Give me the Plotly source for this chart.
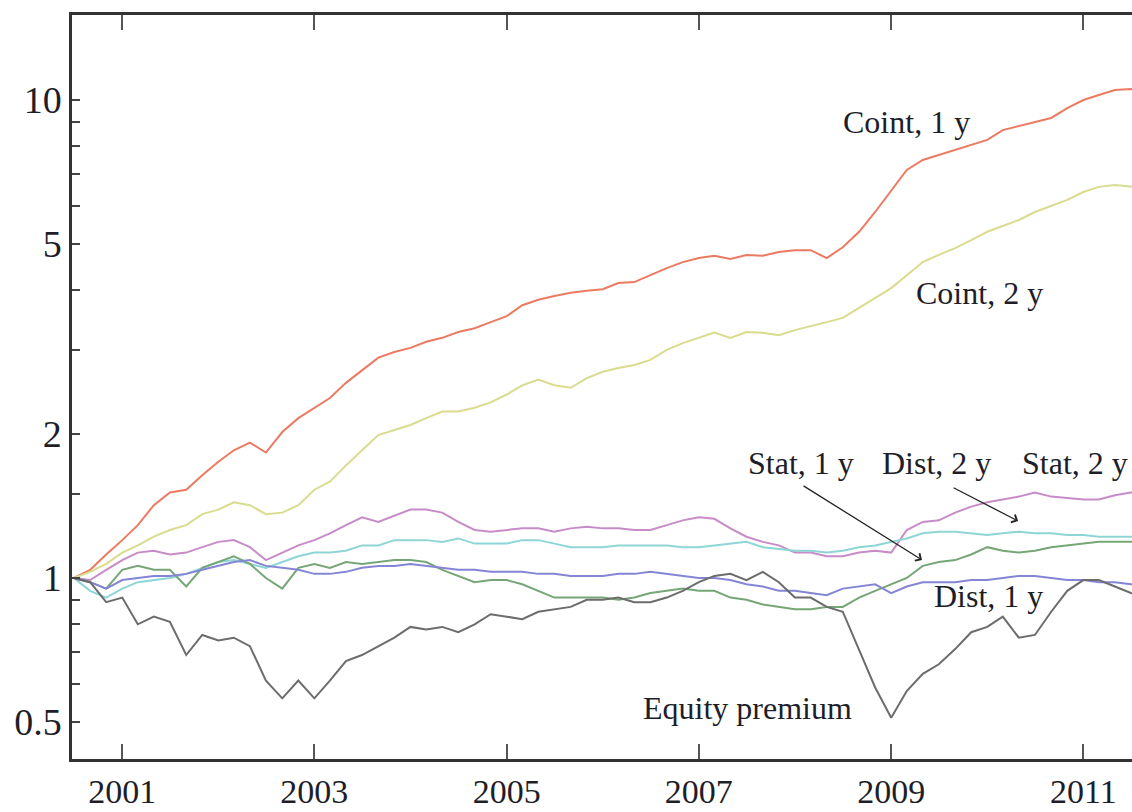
import pandas as pd
import plotly.graph_objects as go

# Bi-monthly observation dates, July 2000 onwards
dates = pd.date_range("2000-07-01", periods=68, freq="2MS")

# Cumulative value of each strategy (log scale, start = 1)
coint_1y = [1.00, 1.04, 1.12, 1.20, 1.29, 1.42, 1.51, 1.53, 1.64, 1.75, 1.85, 1.92, 1.83, 2.02, 2.16, 2.27, 2.38,
            2.56, 2.72, 2.89, 2.97, 3.03, 3.12, 3.18, 3.27, 3.33, 3.43, 3.53, 3.72, 3.82, 3.89, 3.95, 3.99, 4.02,
            4.14, 4.16, 4.30, 4.45, 4.58, 4.67, 4.72, 4.65, 4.74, 4.72, 4.81, 4.85, 4.85, 4.67, 4.92, 5.30, 5.83,
            6.48, 7.14, 7.49, 7.67, 7.86, 8.05, 8.25, 8.65, 8.82, 8.99, 9.17, 9.62, 10.0, 10.24, 10.49, 10.54, 10.49]
coint_2y = [1.00, 1.03, 1.07, 1.13, 1.17, 1.22, 1.26, 1.29, 1.36, 1.39, 1.44, 1.42, 1.36, 1.37, 1.42, 1.53, 1.59,
            1.72, 1.85, 1.99, 2.04, 2.09, 2.16, 2.23, 2.23, 2.27, 2.33, 2.42, 2.53, 2.60, 2.53, 2.50, 2.62, 2.70,
            2.75, 2.79, 2.86, 3.00, 3.10, 3.18, 3.26, 3.18, 3.27, 3.26, 3.22, 3.30, 3.37, 3.43, 3.50, 3.67, 3.85,
            4.04, 4.30, 4.58, 4.74, 4.90, 5.09, 5.30, 5.45, 5.61, 5.83, 6.00, 6.18, 6.42, 6.58, 6.64, 6.58, 6.54]
stat_2y = [1.00, 0.99, 1.04, 1.09, 1.13, 1.14, 1.12, 1.13, 1.16, 1.19, 1.20, 1.16, 1.09, 1.13, 1.17, 1.20, 1.24,
           1.29, 1.34, 1.31, 1.35, 1.39, 1.39, 1.37, 1.31, 1.26, 1.25, 1.26, 1.27, 1.27, 1.25, 1.27, 1.28, 1.27,
           1.27, 1.26, 1.26, 1.29, 1.32, 1.34, 1.33, 1.27, 1.22, 1.19, 1.17, 1.13, 1.13, 1.11, 1.11, 1.13, 1.14,
           1.13, 1.26, 1.31, 1.32, 1.37, 1.41, 1.44, 1.46, 1.48, 1.51, 1.48, 1.47, 1.46, 1.46, 1.49, 1.51, 1.51]
dist_2y = [1.00, 0.94, 0.91, 0.95, 0.98, 0.99, 1.00, 1.02, 1.05, 1.08, 1.09, 1.07, 1.05, 1.08, 1.11, 1.13, 1.13,
           1.14, 1.17, 1.17, 1.20, 1.20, 1.20, 1.19, 1.21, 1.18, 1.18, 1.18, 1.20, 1.20, 1.18, 1.16, 1.16, 1.16,
           1.17, 1.17, 1.17, 1.17, 1.16, 1.16, 1.17, 1.18, 1.19, 1.16, 1.15, 1.14, 1.14, 1.13, 1.14, 1.16, 1.17,
           1.19, 1.21, 1.24, 1.25, 1.25, 1.24, 1.23, 1.24, 1.25, 1.24, 1.24, 1.23, 1.23, 1.22, 1.22, 1.22, 1.22]
stat_1y = [1.00, 0.98, 0.95, 1.04, 1.06, 1.04, 1.04, 0.96, 1.05, 1.08, 1.11, 1.07, 1.00, 0.95, 1.05, 1.07, 1.05,
           1.08, 1.07, 1.08, 1.09, 1.09, 1.08, 1.04, 1.01, 0.98, 0.99, 0.99, 0.97, 0.94, 0.91, 0.91, 0.91, 0.91,
           0.90, 0.91, 0.93, 0.94, 0.95, 0.94, 0.94, 0.91, 0.90, 0.88, 0.87, 0.86, 0.86, 0.87, 0.87, 0.91, 0.94,
           0.97, 1.00, 1.06, 1.08, 1.09, 1.12, 1.16, 1.14, 1.13, 1.14, 1.16, 1.17, 1.18, 1.19, 1.19, 1.19, 1.19]
dist_1y = [1.00, 0.98, 0.95, 0.99, 1.00, 1.01, 1.01, 1.02, 1.04, 1.06, 1.08, 1.09, 1.06, 1.05, 1.04, 1.02, 1.02,
           1.03, 1.05, 1.06, 1.06, 1.07, 1.06, 1.05, 1.04, 1.04, 1.03, 1.03, 1.03, 1.02, 1.02, 1.01, 1.01, 1.01,
           1.02, 1.02, 1.03, 1.02, 1.01, 1.00, 1.00, 0.99, 0.97, 0.96, 0.94, 0.94, 0.93, 0.92, 0.95, 0.96, 0.97,
           0.93, 0.96, 0.98, 0.98, 0.98, 0.99, 0.99, 1.00, 1.01, 1.01, 1.00, 0.99, 0.99, 0.98, 0.98, 0.97, 0.97]
equity_premium = [1.00, 0.98, 0.89, 0.91, 0.80, 0.83, 0.81, 0.69, 0.76, 0.74, 0.75, 0.72, 0.61, 0.56, 0.61, 0.56,
                  0.61, 0.67, 0.69, 0.72, 0.75, 0.79, 0.78, 0.79, 0.77, 0.80, 0.84, 0.83, 0.82, 0.85, 0.86, 0.87,
                  0.90, 0.90, 0.91, 0.89, 0.89, 0.91, 0.94, 0.98, 1.01, 1.02, 0.99, 1.03, 0.98, 0.91, 0.91, 0.87,
                  0.85, 0.71, 0.59, 0.51, 0.58, 0.63, 0.66, 0.71, 0.77, 0.79, 0.83, 0.75, 0.76, 0.85, 0.94, 0.99,
                  0.99, 0.96, 0.93, 0.92]

series_names = ["Coint, 1 y", "Coint, 2 y", "Stat, 2 y", "Dist, 2 y", "Stat, 1 y", "Dist, 1 y", "Equity premium"]
series_values = [coint_1y, coint_2y, stat_2y, dist_2y, stat_1y, dist_1y, equity_premium]
series_colors = ["#ec7a62", "#d9dc8e", "#c78cc8", "#8ed6d6", "#76a676", "#8585d6", "#6c6c6c"]

x_tick_years = [2001, 2003, 2005, 2007, 2009, 2011]
y_tick_vals = [0.5, 0.6, 0.7, 0.8, 0.9, 1, 1.5, 2, 3, 4, 5, 6, 7, 8, 9, 10]
y_labelled = {0.5: "0.5", 1: "1", 2: "2", 5: "5", 10: "10"}

SERIF = "Liberation Serif, Times New Roman, serif"
INK = "#1e1e28"

fig = go.Figure()
for name, vals, col in zip(series_names, series_values, series_colors):
    fig.add_trace(go.Scatter(x=dates, y=vals, mode="lines", name=name,
                             line=dict(color=col, width=2), showlegend=False))

fig.update_layout(
    width=1132, height=812,
    margin=dict(l=72, r=0, t=15, b=53),
    paper_bgcolor="white", plot_bgcolor="white",
    font=dict(family=SERIF, color=INK),
)

fig.update_xaxes(
    range=["2000-06-24", "2011-07-05"],
    tickvals=[pd.Timestamp(f"{y}-01-01") for y in x_tick_years],
    ticktext=[str(y) for y in x_tick_years],
    ticks="inside", ticklen=15, tickwidth=1.5, tickcolor="#555",
    showline=True, linecolor="#333", linewidth=2.5, mirror="ticks",
    showgrid=False, zeroline=False, automargin=False,
    tickfont=dict(family=SERIF, size=34, color=INK),
    ticklabelstandoff=0,
)
fig.update_yaxes(
    type="log", range=[-0.3787, 1.1778],
    tickvals=y_tick_vals,
    ticktext=[y_labelled.get(v, "") for v in y_tick_vals],
    ticks="inside", ticklen=8, tickwidth=2, tickcolor="#444",
    showline=True, linecolor="#333", linewidth=2.5, mirror=False,
    showgrid=False, zeroline=False, automargin=False,
    tickfont=dict(family=SERIF, size=38, color=INK),
)

# Series labels
labels = [
    ("Coint, 1 y", 0.787, 0.856),
    ("Coint, 2 y", 0.856, 0.626),
    ("Stat, 1 y", 0.688, 0.398),
    ("Dist, 2 y", 0.816, 0.398),
    ("Stat, 2 y", 0.946, 0.398),
    ("Dist, 1 y", 0.865, 0.219),
    ("Equity premium", 0.637, 0.0685),
]
for text, px, py in labels:
    fig.add_annotation(text=text, x=px, y=py, xref="paper", yref="paper",
                       showarrow=False, xanchor="center", yanchor="middle",
                       font=dict(family=SERIF, size=32, color=INK))

# Pointer arrows for the crowded labels
fig.add_annotation(text="", x=0.8019, y=0.2675, xref="paper", yref="paper",
                   ax=-120, ay=-75, showarrow=True, arrowhead=4, arrowsize=1.3,
                   arrowwidth=1.3, arrowcolor="#222", standoff=0)
fig.add_annotation(text="", x=0.8925, y=0.3199, xref="paper", yref="paper",
                   ax=-66, ay=-34, showarrow=True, arrowhead=4, arrowsize=1.3,
                   arrowwidth=1.3, arrowcolor="#222", standoff=0)

fig.write_html("out.html")
